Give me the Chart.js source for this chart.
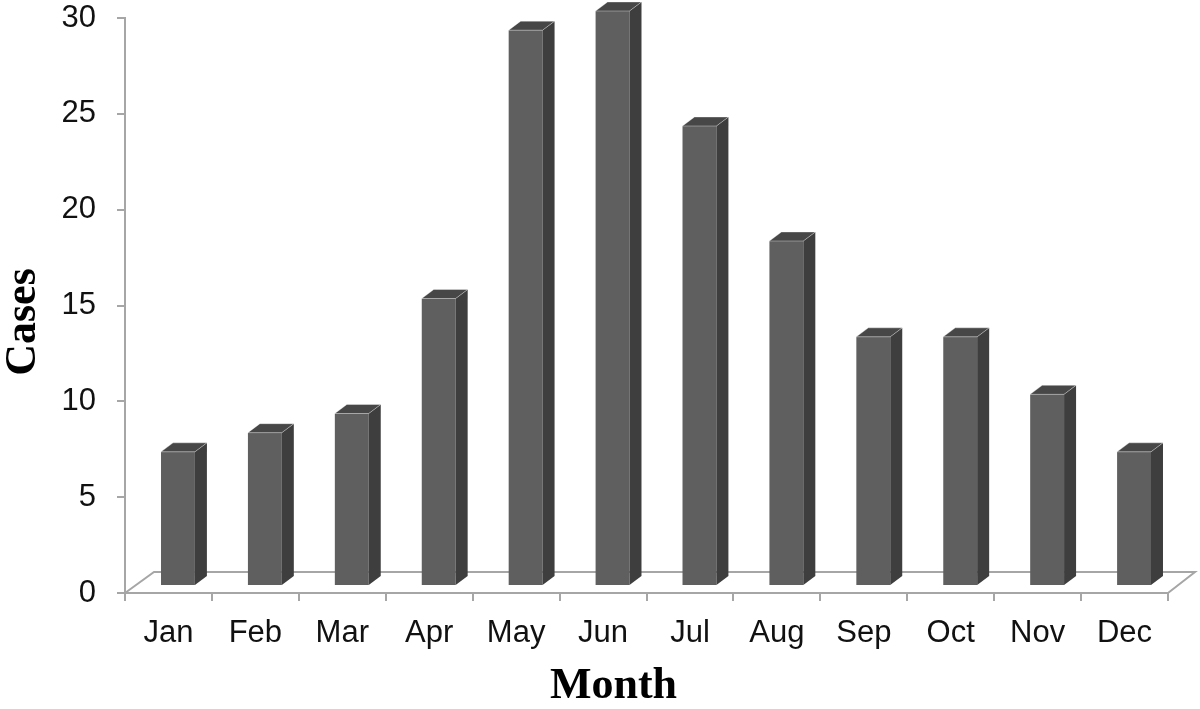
<!DOCTYPE html>
<html>
<head>
<meta charset="utf-8">
<script src="https://cdn.jsdelivr.net/npm/chart.js@4.4.1/dist/chart.umd.min.js"></script>
<style>
  html, body { margin: 0; padding: 0; background: #fff; }
  #wrap { width: 1200px; height: 709px; }
</style>
</head>
<body>
<div id="wrap"><canvas id="chart" width="1200" height="709"></canvas></div>
<script>
const months = ['Jan', 'Feb', 'Mar', 'Apr', 'May', 'Jun', 'Jul', 'Aug', 'Sep', 'Oct', 'Nov', 'Dec'];
const cases = [7, 8, 9, 15, 29, 30, 24, 18, 13, 13, 10, 7];
const yTicks = [0, 5, 10, 15, 20, 25, 30];

// fake 3d look, like the old office charts
const floorDx = 29, floorDy = 21;
const barShiftX = 9.5, barShiftY = -7;
const depthX = 12, depthY = 9;

const threeD = {
  id: 'threeD',
  beforeDatasetsDraw(chart) {
    const ctx = chart.ctx;
    const a = chart.chartArea;
    ctx.save();
    ctx.strokeStyle = '#a6a6a6';
    ctx.lineWidth = 2;
    ctx.beginPath();
    ctx.moveTo(a.left, a.bottom);
    ctx.lineTo(a.left + floorDx, a.bottom - floorDy);
    ctx.lineTo(a.right + floorDx - 2, a.bottom - floorDy);
    ctx.lineTo(a.right, a.bottom);
    ctx.stroke();
    ctx.restore();

    ctx.save();
    ctx.translate(barShiftX, barShiftY);
  },
  afterDatasetsDraw(chart) {
    const ctx = chart.ctx;
    const meta = chart.getDatasetMeta(0);
    meta.data.forEach(bar => {
      const p = bar.getProps(['x', 'y', 'base', 'width'], true);
      const l = p.x - p.width / 2, r = p.x + p.width / 2;
      // side
      ctx.fillStyle = '#3e3e3e';
      ctx.beginPath();
      ctx.moveTo(r, p.base);
      ctx.lineTo(r + depthX, p.base - depthY);
      ctx.lineTo(r + depthX, p.y - depthY);
      ctx.lineTo(r, p.y);
      ctx.closePath();
      ctx.fill();
      // top
      ctx.fillStyle = '#474747';
      ctx.beginPath();
      ctx.moveTo(l, p.y);
      ctx.lineTo(l + depthX, p.y - depthY);
      ctx.lineTo(r + depthX, p.y - depthY);
      ctx.lineTo(r, p.y);
      ctx.closePath();
      ctx.fill();
      ctx.strokeStyle = 'rgba(255,255,255,0.35)';
      ctx.lineWidth = 1;
      ctx.stroke();
    });
    ctx.restore();
  }
};

new Chart(document.getElementById('chart'), {
  type: 'bar',
  data: {
    labels: months,
    datasets: [{
      label: 'Cases',
      data: cases,
      backgroundColor: '#5f5f5f',
      borderWidth: 0,
      categoryPercentage: 1,
      barPercentage: 0.39,
      clip: false
    }]
  },
  options: {
    responsive: false,
    animation: false,
    devicePixelRatio: 1,
    layout: { padding: { top: 18, right: 32, left: 0, bottom: 0 } },
    plugins: { legend: { display: false }, tooltip: { enabled: false } },
    scales: {
      x: {
        afterFit(scale) { scale.height = 116; },
        grid: { drawOnChartArea: false, tickLength: 8, color: '#a6a6a6', lineWidth: 2, offset: true },
        border: { color: '#a6a6a6', width: 2 },
        ticks: { color: '#111', padding: 14, font: { family: 'Liberation Sans, Arial', size: 31, lineHeight: 1.16 } },
        title: {
          display: true, text: 'Month      ', color: '#000',
          font: { family: 'Liberation Serif, Times New Roman', size: 44, weight: 'bold', lineHeight: 1 },
          padding: { top: 0, bottom: 0 }
        }
      },
      y: {
        min: 0,
        max: 30,
        afterFit(scale) {
          scale.width = 125;
          scale.paddingTop = 0;
          scale.paddingBottom = 0;
        },
        afterBuildTicks(scale) { scale.ticks = yTicks.map(v => ({ value: v })); },
        grid: { drawOnChartArea: false, tickLength: 8, color: '#a6a6a6', lineWidth: 2 },
        border: { color: '#a6a6a6', width: 2 },
        ticks: { color: '#111', padding: 21, font: { family: 'Liberation Sans, Arial', size: 31, lineHeight: 1.16 } },
        title: {
          display: true, text: 'Cases   ', color: '#000',
          font: { family: 'Liberation Serif, Times New Roman', size: 44, weight: 'bold', lineHeight: 1 },
          padding: { top: 2, bottom: 0 }
        }
      }
    }
  },
  plugins: [threeD]
});
</script>
</body>
</html>
